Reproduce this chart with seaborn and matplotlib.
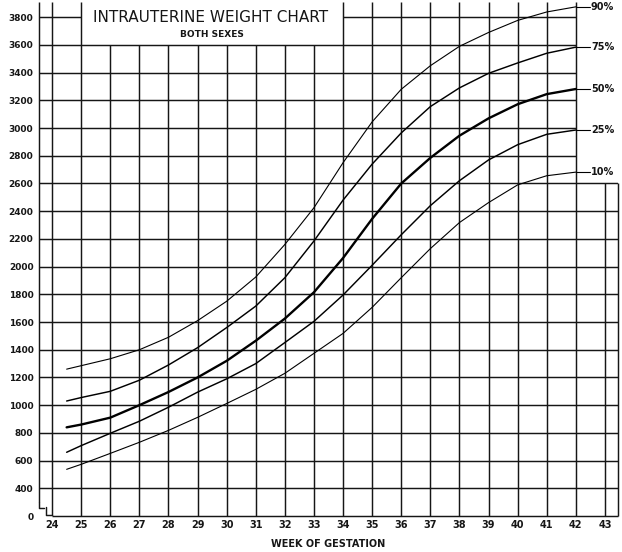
import matplotlib
matplotlib.use("Agg")
import matplotlib.pyplot as plt
import pandas as pd
import seaborn as sns

sns.set_style("white")
plt.rcParams['font.family'] = ['DejaVu Sans']

# week of gestation and weight (grams)
weeks = [24.5, 25, 26, 27, 28, 29, 30, 31, 32, 33, 34, 35, 36, 37, 38, 39, 40, 41, 42]
p90 = [1260, 1285, 1335, 1400, 1490, 1610, 1750, 1925, 2160, 2425, 2750, 3045, 3280, 3450, 3590, 3690, 3777, 3838, 3875]
p75 = [1030, 1055, 1100, 1180, 1290, 1415, 1560, 1715, 1920, 2185, 2480, 2740, 2965, 3155, 3290, 3395, 3470, 3540, 3584]
p50 = [840, 860, 910, 1000, 1095, 1200, 1320, 1465, 1625, 1815, 2062, 2345, 2600, 2785, 2945, 3070, 3172, 3245, 3282]
p25 = [660, 708, 797, 884, 985, 1094, 1190, 1300, 1452, 1605, 1795, 2010, 2230, 2440, 2620, 2770, 2880, 2955, 2986]
p10 = [537, 573, 652, 732, 818, 912, 1012, 1114, 1230, 1374, 1518, 1706, 1920, 2130, 2318, 2462, 2590, 2656, 2682]

percentiles = ["90", "75", "50", "25", "10"]
series = dict(zip(percentiles, [p90, p75, p50, p25, p10]))
widths = {"90": 0.8, "75": 1.05, "50": 1.7, "25": 1.05, "10": 0.8}

rows = []
for pct in percentiles:
    for w, g in zip(weeks, series[pct]):
        rows.append({"week": w, "grams": g, "pct": pct})
df = pd.DataFrame(rows)

week_ticks = list(range(24, 44))
gram_ticks = list(range(400, 3801, 200))

x0, x1 = 23.55, 43.45
y0, y1 = 200, 3910
ink = "#161616"

fig = plt.figure(figsize=(6.22, 5.52), dpi=100)
ax = fig.add_axes([0.0627, 0.0652, 0.9309, 0.9312])
ax.set_xlim(x0, x1)
ax.set_ylim(y0, y1)
for s in ax.spines.values():
    s.set_visible(False)

# hand-ruled grid, with the title box and the cut-out corner on the right
glw = 1.05
for g in gram_ticks:
    if g == 3800:
        ax.hlines(g, x0, 25, color=ink, lw=glw)
        ax.hlines(g, 34, 42, color=ink, lw=glw)
    elif g >= 2800:
        ax.hlines(g, x0, 42, color=ink, lw=glw)
    else:
        ax.hlines(g, x0, x1, color=ink, lw=glw)
for w in week_ticks:
    if 26 <= w <= 33:
        ax.vlines(w, y0, 3600, color=ink, lw=glw)
    elif w == 43:
        ax.vlines(w, y0, 2600, color=ink, lw=glw)
    else:
        ax.vlines(w, y0, y1, color=ink, lw=glw)
ax.vlines(x1, y0, 2600, color=ink, lw=glw, clip_on=False)
ax.hlines(y0, 24.0, x1, color=ink, lw=glw, clip_on=False)

# left axis with the little break near zero
ax.vlines(x0, 300, y1, color=ink, lw=glw, clip_on=False)
ax.plot([x0, x0, 23.72], [300, 255, 255], color=ink, lw=glw, clip_on=False)
ax.plot([23.8, 23.8, 24.0], [262, 205, 205], color=ink, lw=glw, clip_on=False)

sns.lineplot(data=df, x="week", y="grams", hue="pct", size="pct",
             palette={p: "black" for p in percentiles}, sizes=widths,
             estimator=None, sort=True, legend=False, ax=ax)

for pct in percentiles:
    last = series[pct][-1]
    ax.plot([weeks[-1], 42.48], [last, last], color="black", lw=0.8)
    ax.text(42.52, last, pct + "%", ha="left", va="center",
            fontsize=7, fontweight="bold", color=ink)

ax.text(29.45, 3800, "INTRAUTERINE WEIGHT CHART", ha="center", va="center",
        fontsize=11, color=ink)
ax.text(29.5, 3678, "BOTH SEXES", ha="center", va="center",
        fontsize=6.5, fontweight="bold", color=ink)

ax.set_xticks(week_ticks)
ax.set_xticklabels([str(w) for w in week_ticks], fontsize=7, fontweight="bold", color=ink)
ax.set_yticks([200] + gram_ticks)
ax.set_yticklabels(["0"] + [str(g) for g in gram_ticks], fontsize=6.5, fontweight="bold", color=ink)
ax.tick_params(axis="x", length=0, pad=3)
ax.tick_params(axis="y", length=3, width=0.9, color=ink, pad=1)
ax.set_xlabel("WEEK OF GESTATION", fontsize=7, fontweight="bold", color=ink, labelpad=6)
ax.set_ylabel("")

fig.savefig("out.png", dpi=100, facecolor="white")
